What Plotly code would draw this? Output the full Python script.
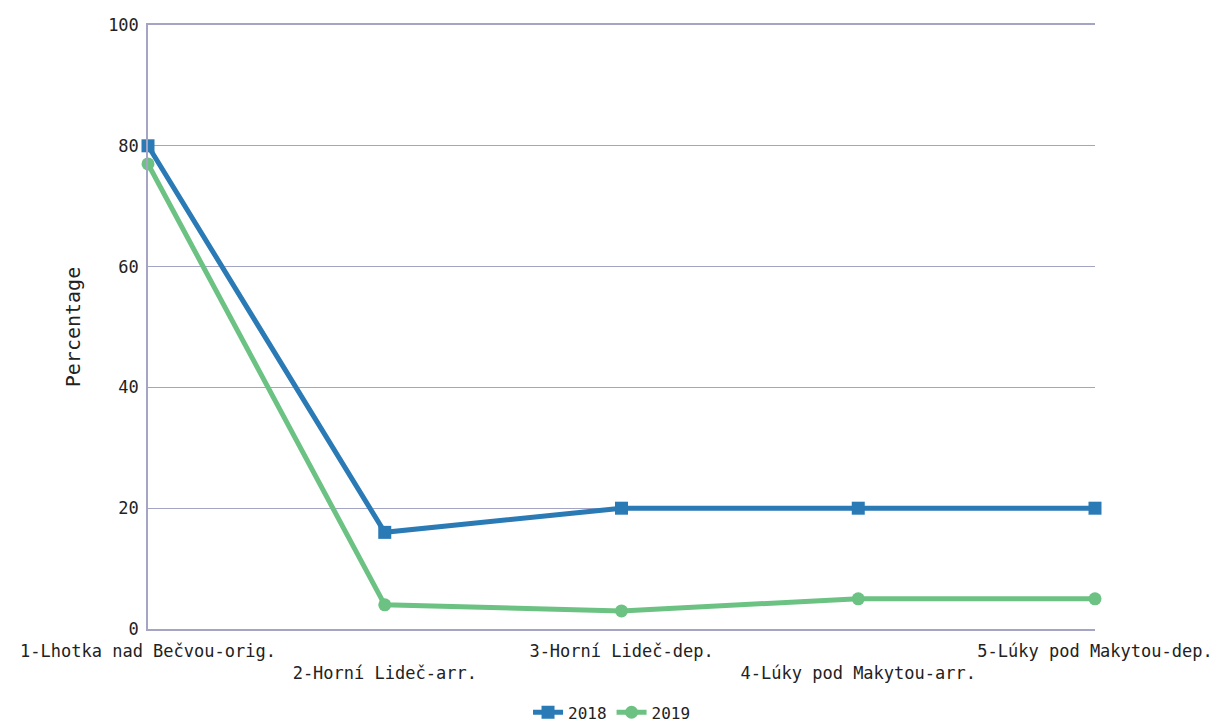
import plotly.graph_objects as go

categories = ["1-Lhotka nad Bečvou-orig.", "2-Horní Lideč-arr.", "3-Horní Lideč-dep.",
              "4-Lúky pod Makytou-arr.", "5-Lúky pod Makytou-dep."]
values_2018 = [80, 16, 20, 20, 20]
values_2019 = [77, 4, 3, 5, 5]
y_ticks = [0, 20, 40, 60, 80, 100]

xpos = list(range(len(categories)))
ticktext = [c if i % 2 == 0 else "<br>" + c for i, c in enumerate(categories)]

fig = go.Figure()
fig.add_trace(go.Scatter(x=xpos, y=values_2018, name="2018", mode="lines+markers",
                         line=dict(color="#2a7ab5", width=5),
                         marker=dict(symbol="square", size=13, color="#2a7ab5"),
                         cliponaxis=False))
fig.add_trace(go.Scatter(x=xpos, y=values_2019, name="2019", mode="lines+markers",
                         line=dict(color="#6cc283", width=5),
                         marker=dict(symbol="circle", size=13, color="#6cc283"),
                         cliponaxis=False))

fig.update_layout(
    width=1215, height=714,
    margin=dict(l=140, r=128, t=17, b=93, autoexpand=False),
    paper_bgcolor="white", plot_bgcolor="white",
    font=dict(family="DejaVu Sans Mono", size=17, color="#222"),
    showlegend=True,
    legend=dict(orientation="h", x=0.49, xanchor="center", y=-0.138, yanchor="middle",
                font=dict(size=16), tracegroupgap=0),
    xaxis=dict(range=[0, 4], tickvals=xpos, ticktext=ticktext, showgrid=False,
               showline=True, mirror=True, linecolor="#a4a4c4", linewidth=1.5,
               zeroline=False, ticks="", tickangle=0, tickfont=dict(size=17),
               automargin=False, ticklabelstandoff=6),
    yaxis=dict(range=[0, 100], tickvals=y_ticks, showgrid=True, gridcolor="#a4a4c4",
               gridwidth=1, showline=True, linecolor="#a4a4c4", linewidth=1.5,
               zeroline=False, ticks="", title=dict(text="Percentage", standoff=22),
               tickfont=dict(size=17), automargin=False, ticklabelstandoff=4),
)

fig.write_html("out.html")
